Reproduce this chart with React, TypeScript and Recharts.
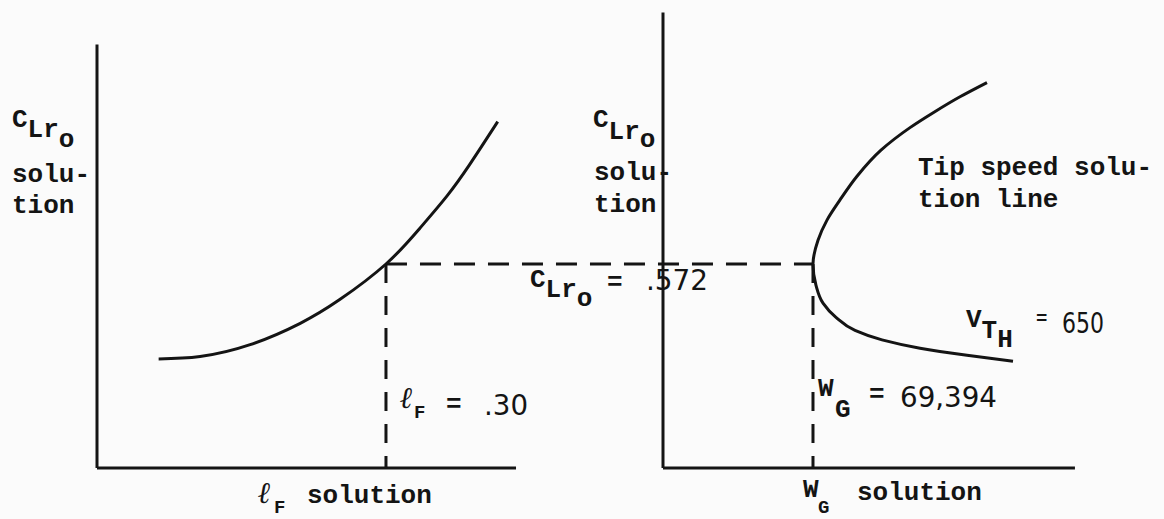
import { ComposedChart, Line, XAxis, YAxis, ReferenceLine, Customized } from "recharts"

// left panel: C_Lro solution against ℓF solution
const lfValues = [0.064, 0.107, 0.159, 0.211, 0.252, 0.3, 0.335, 0.363, 0.387, 0.416]
const lfClro = [0.492, 0.494, 0.504, 0.522, 0.542, 0.572, 0.602, 0.629, 0.656, 0.692]

// right panel: tip speed solution line (V_TH = 650), lower branch first
const wgValues = [
  81921, 79040, 76096, 73716, 72025, 70835, 70021, 69582, 69394,
  69708, 70271, 71086, 72150, 73653, 75470, 76973, 78601, 80292,
]
const wgClro = [
  0.49, 0.495, 0.501, 0.508, 0.516, 0.527, 0.539, 0.554, 0.572,
  0.592, 0.609, 0.626, 0.646, 0.668, 0.687, 0.7, 0.713, 0.725,
]

const LF_SOLUTION = 0.3
const CLRO_SOLUTION = 0.572
const WG_SOLUTION = 69394

// axis extents
const CLRO_BASE = 0.4
const LF_AXIS_END = 0.435
const LF_AXIS_TOP = 0.757
const WG_AXIS_START = 60000
const WG_AXIS_END = 85800
const WG_AXIS_TOP = 0.784

const LF_DOMAIN: [number, number] = [-0.1007, 1.1077]
const WG_DOMAIN: [number, number] = [18476, 91378]
const CLRO_DOMAIN: [number, number] = [0.4, 0.7946]

const leftCurve = lfValues.map((lf, i) => ({ lf, clro: lfClro[i] }))
const rightCurve = wgValues.map((wg, i) => ({ wg, clro: wgClro[i] }))

// both x axes span the same width, so a W_G value can be placed on the ℓF axis
const lfOf = (wg: number) =>
  LF_DOMAIN[0] + ((wg - WG_DOMAIN[0]) / (WG_DOMAIN[1] - WG_DOMAIN[0])) * (LF_DOMAIN[1] - LF_DOMAIN[0])

const INK = "#141414"
const mono = { fontFamily: "'Liberation Mono', 'Courier New', monospace", fontWeight: 700, fontSize: 26, fill: INK }
const small = { ...mono, fontSize: 19 }
const hand = { fontFamily: "'DejaVu Sans', sans-serif", fontSize: 28, fill: INK }
const script = { fontFamily: "'DejaVu Serif', serif", fontStyle: "italic", fontWeight: 700, fontSize: 30, fill: INK }

function Labels() {
  return (
    <g>
      {/* left y label */}
      <text x={12} y={127} style={mono}>C<tspan dy={10}>Lr</tspan><tspan dy={10}>o</tspan></text>
      <text x={12} y={182} style={mono}>solu-</text>
      <text x={12} y={213} style={mono}>tion</text>

      {/* right y label */}
      <text x={593} y={127} style={mono}>C<tspan dy={12}>Lr</tspan><tspan dy={8}>o</tspan></text>
      <text x={594} y={180} style={mono}>solu-</text>
      <text x={594} y={212} style={mono}>tion</text>

      <text x={918} y={175} style={mono}>Tip speed solu-</text>
      <text x={918} y={207} style={mono}>tion line</text>

      {/* C_Lro = .572 */}
      <text x={530} y={287} style={mono}>C<tspan dy={10}>Lr</tspan><tspan dy={9}>o</tspan></text>
      <text x={607} y={290} style={mono}>=</text>
      <text x={646} y={290} style={hand} textLength={62} lengthAdjust="spacingAndGlyphs">.572</text>

      {/* ℓF = .30 */}
      <text x={400} y={408} style={script}>ℓ</text>
      <text x={414} y={418} style={small}>F</text>
      <text x={446} y={412} style={mono}>=</text>
      <text x={484} y={415} style={hand} textLength={44} lengthAdjust="spacingAndGlyphs">.30</text>

      {/* W_G = 69,394 */}
      <text x={818} y={396} style={mono}>W</text>
      <text x={835} y={417} style={mono}>G</text>
      <text x={869} y={402} style={mono}>=</text>
      <text x={900} y={407} style={hand} textLength={97} lengthAdjust="spacingAndGlyphs">69,394</text>

      {/* V_TH = 650 */}
      <text x={966} y={327} style={mono}>V<tspan dy={11}>T</tspan><tspan dy={9}>H</tspan></text>
      <text x={1036} y={324} style={small}>=</text>
      <text x={1062} y={333} style={hand} textLength={42} lengthAdjust="spacingAndGlyphs">650</text>

      {/* x labels */}
      <text x={258} y={503} style={script}>ℓ</text>
      <text x={274} y={513} style={small}>F</text>
      <text x={307} y={503} style={mono}>solution</text>

      <text x={803} y={497} style={mono}>W</text>
      <text x={818} y={513} style={small}>G</text>
      <text x={857} y={500} style={mono}>solution</text>
    </g>
  )
}

export default function App() {
  const axisLine = { stroke: INK, strokeWidth: 3 }
  const dashed = { stroke: INK, strokeWidth: 3, strokeDasharray: "21 13" }

  return (
    <div style={{ position: "fixed", left: 0, top: 0, width: 1164, height: 519, background: "#fbfbfb" }}>
      <ComposedChart width={1164} height={519} margin={{ top: 0, right: 0, bottom: 51, left: 0 }}>
        <XAxis xAxisId="lf" dataKey="lf" type="number" domain={LF_DOMAIN} allowDataOverflow hide />
        <XAxis xAxisId="wg" dataKey="wg" type="number" domain={WG_DOMAIN} allowDataOverflow hide />
        <YAxis type="number" domain={CLRO_DOMAIN} allowDataOverflow hide />

        {/* left panel axes */}
        <ReferenceLine xAxisId="lf" segment={[{ x: 0, y: CLRO_BASE }, { x: 0, y: LF_AXIS_TOP }]} {...axisLine} />
        <ReferenceLine xAxisId="lf" segment={[{ x: 0, y: CLRO_BASE }, { x: LF_AXIS_END, y: CLRO_BASE }]} {...axisLine} />

        {/* right panel axes */}
        <ReferenceLine xAxisId="wg" segment={[{ x: WG_AXIS_START, y: CLRO_BASE }, { x: WG_AXIS_START, y: WG_AXIS_TOP }]} {...axisLine} />
        <ReferenceLine xAxisId="wg" segment={[{ x: WG_AXIS_START, y: CLRO_BASE }, { x: WG_AXIS_END, y: CLRO_BASE }]} {...axisLine} />

        {/* solution guide lines */}
        <ReferenceLine xAxisId="lf" segment={[{ x: LF_SOLUTION, y: CLRO_SOLUTION }, { x: lfOf(WG_SOLUTION), y: CLRO_SOLUTION }]} {...dashed} />
        <ReferenceLine xAxisId="lf" segment={[{ x: LF_SOLUTION, y: CLRO_SOLUTION }, { x: LF_SOLUTION, y: CLRO_BASE }]} {...dashed} strokeDasharray="19 13" />
        <ReferenceLine xAxisId="wg" segment={[{ x: WG_SOLUTION, y: CLRO_SOLUTION }, { x: WG_SOLUTION, y: CLRO_BASE }]} {...dashed} strokeDasharray="19 13" />

        <Line
          xAxisId="lf"
          data={leftCurve}
          dataKey="clro"
          type="natural"
          stroke={INK}
          strokeWidth={3}
          dot={false}
          activeDot={false}
          isAnimationActive={false}
        />
        <Line
          xAxisId="wg"
          data={rightCurve}
          dataKey="clro"
          type="monotoneY"
          stroke={INK}
          strokeWidth={3}
          dot={false}
          activeDot={false}
          isAnimationActive={false}
        />

        <Customized component={Labels} />
      </ComposedChart>
    </div>
  )
}
